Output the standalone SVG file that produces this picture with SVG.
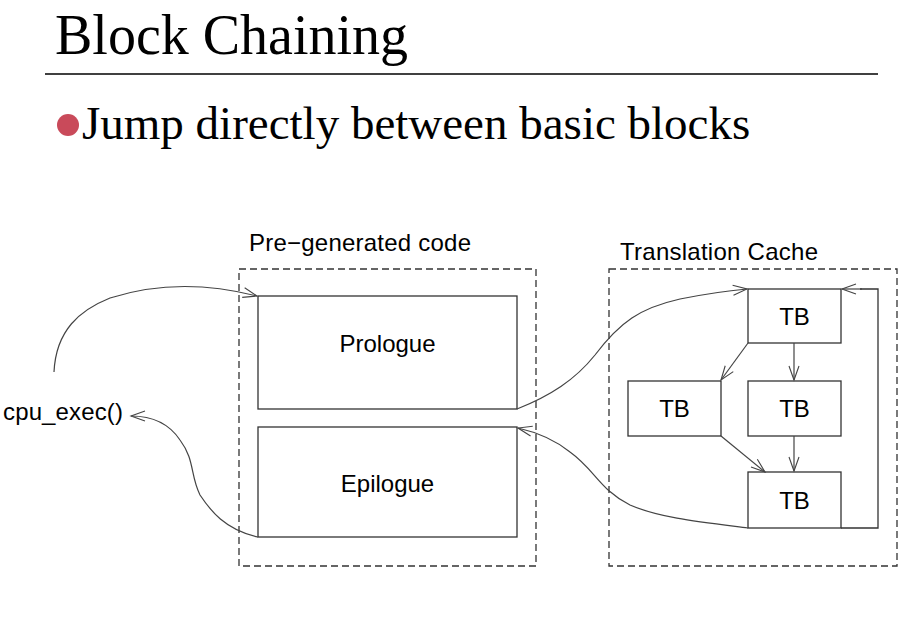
<svg xmlns="http://www.w3.org/2000/svg" width="901" height="622" viewBox="0 0 901 622">
  <style>
    .title { font-family: "Liberation Serif", "Times New Roman", serif; fill: #000; }
    .lbl { font-family: "Liberation Sans", Arial, sans-serif; font-size: 24px; fill: #000; }
    .box { fill: #fff; stroke: #333; stroke-width: 1.3; }
    .dash { fill: none; stroke: #333; stroke-width: 1.3; stroke-dasharray: 7 4; }
    .edge { fill: none; stroke: #444; stroke-width: 1.2; marker-end: url(#open); }
    .plain { fill: none; stroke: #333; stroke-width: 1.3; }
  </style>
  <defs>
    <marker id="open" markerUnits="userSpaceOnUse" markerWidth="16" markerHeight="12" refX="14" refY="5" orient="auto" overflow="visible">
      <path d="M0,0 L14,5 L0,10" fill="none" stroke="#444" stroke-width="1.1"/>
    </marker>
  </defs>
  <rect width="901" height="622" fill="#fff"/>

  <!-- heading -->
  <text class="title" x="55" y="54" font-size="56">Block Chaining</text>
  <line x1="45" y1="74" x2="878" y2="74" stroke="#000" stroke-width="1.3"/>
  <circle cx="68" cy="125" r="11" fill="#c94a5a"/>
  <text class="title" x="82" y="139" font-size="47">Jump directly between basic blocks</text>

  <!-- containers -->
  <g id="pregen">
    <rect class="dash" x="239" y="269" width="297" height="297"/>
    <text class="lbl" x="249" y="251" textLength="222">Pre−generated code</text>
  </g>
  <g id="cache">
    <rect class="dash" x="609" y="269" width="288" height="297"/>
    <text class="lbl" x="620" y="260" textLength="198">Translation Cache</text>
  </g>

  <!-- nodes -->
  <g id="cpu">
    <text class="lbl" x="3" y="420" textLength="120">cpu_exec()</text>
  </g>
  <g id="prologue">
    <rect class="box" x="258" y="296" width="259" height="113"/>
    <text class="lbl" x="387.5" y="352" text-anchor="middle">Prologue</text>
  </g>
  <g id="epilogue">
    <rect class="box" x="258" y="427" width="259" height="110"/>
    <text class="lbl" x="387.5" y="492" text-anchor="middle">Epilogue</text>
  </g>
  <g id="tb1">
    <rect class="box" x="748" y="289" width="93" height="54"/>
    <text class="lbl" x="794.5" y="325" text-anchor="middle">TB</text>
  </g>
  <g id="tb2">
    <rect class="box" x="628" y="381" width="93" height="55"/>
    <text class="lbl" x="674.5" y="417" text-anchor="middle">TB</text>
  </g>
  <g id="tb3">
    <rect class="box" x="748" y="381" width="93" height="55"/>
    <text class="lbl" x="794.5" y="417" text-anchor="middle">TB</text>
  </g>
  <g id="tb4">
    <rect class="box" x="748" y="472" width="93" height="56"/>
    <text class="lbl" x="794.5" y="509" text-anchor="middle">TB</text>
  </g>

  <!-- connectors -->
  <g id="edges">
    <path class="edge" d="M54,372 C56,330 80,310 110,298 C160,282 210,284 257,296"/>
    <path class="edge" d="M258,537 C225,530 210,510 200,495 C190,475 195,460 180,440 C170,425 155,416 131,416"/>
    <path class="edge" d="M517,409 C550,396 575,380 595,355 C620,322 640,308 680,299 C705,294 725,291 747,289"/>
    <path class="edge" d="M748,528 C700,522 660,518 630,505 C600,490 595,470 570,452 C555,440 540,433 518,428"/>
    <path class="edge" d="M794,343 L794,380"/>
    <path class="edge" d="M748,343 L721,380"/>
    <path class="edge" d="M794,436 L794,471"/>
    <path class="edge" d="M721,436 L765,472"/>
    <path class="plain" d="M841,528 L878,528 L878,289 L860,289"/>
    <path class="edge" d="M862,289 L842,289"/>
  </g>
</svg>
